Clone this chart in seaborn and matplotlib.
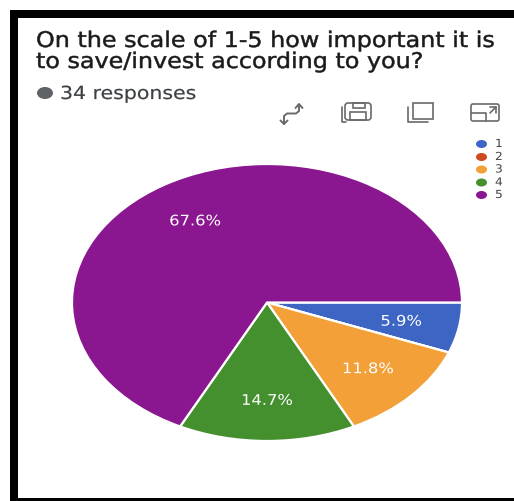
import matplotlib
matplotlib.use("Agg")
import matplotlib.pyplot as plt
import numpy as np
import seaborn as sns
from matplotlib.patches import Rectangle, FancyBboxPatch, Ellipse
from matplotlib.patheffects import AbstractPathEffect
from matplotlib.transforms import Affine2D

categories = ["1", "2", "3", "4", "5"]
values = [2, 0, 4, 5, 23]
pct_labels = ["5.9%", "", "11.8%", "14.7%", "67.6%"]
colors = ["#3D65C4", "#D0491E", "#F2A037", "#44902F", "#8B1790"]
title_lines = ["On the scale of 1-5 how important it is", "to save/invest according to you?"]
subtitle = "34 responses"


class StretchX(AbstractPathEffect):
    """Widen real text about a pixel anchor: the reference image is stretched sideways."""
    def __init__(self, x0, sx, embolden=0.0):
        super().__init__()
        self.x0, self.sx, self.embolden = x0, sx, embolden

    def draw_path(self, renderer, gc, tpath, affine, rgbFace=None):
        t = affine + Affine2D().translate(-self.x0, 0).scale(self.sx, 1).translate(self.x0, 0)
        gc0 = renderer.new_gc()
        gc0.copy_properties(gc)
        if self.embolden:
            gc0.set_linewidth(self.embolden)
            gc0.set_foreground(rgbFace)
        renderer.draw_path(gc0, tpath, t, rgbFace)
        gc0.restore()


sns.set_theme(style="white")
plt.rcParams['font.family'] = ['DejaVu Sans']
W, H = 514, 502
fig = plt.figure(figsize=(W/100, H/100), dpi=100, facecolor="white")

# page overlay in pixel coordinates
bg = fig.add_axes([0, 0, 1, 1], zorder=0)
bg.set_xlim(0, W); bg.set_ylim(H, 0); bg.axis("off")
bg.add_patch(Rectangle((10, 11), W-10, 7.5, color="black", lw=0))
bg.add_patch(Rectangle((10, 11), 8, H-11, color="black", lw=0))
bg.add_patch(Rectangle((10, 499), W-10, 3, color="black", lw=0))

title_fx = [StretchX(36, 1.107, 0.35)]
bg.text(36, 48, title_lines[0], fontsize=15.5, color="#1a1a1a", va="baseline", path_effects=title_fx)
bg.text(36, 69, title_lines[1], fontsize=15.5, color="#1a1a1a", va="baseline", path_effects=title_fx)
bg.add_patch(Ellipse((45, 94), 16, 12, color="#5f6368", lw=0))
bg.text(60, 100, subtitle, fontsize=13, color="#3c4043", va="baseline", path_effects=[StretchX(60, 1.135, 0.15)])

# toolbar icons
ic = "#6a6a6a"
kw = dict(fc="none", ec=ic, lw=1.2)
bg.plot([299, 299, 296, 287, 284, 284], [106, 112, 114.5, 114.5, 117, 125], color=ic, lw=1.4)
bg.plot([295.5, 299, 302.5], [109, 105, 109], color=ic, lw=1.4)
bg.plot([280.5, 284, 287.5], [121.5, 125, 121.5], color=ic, lw=1.4)
bg.add_patch(FancyBboxPatch((345, 104), 26, 17, boxstyle="round,pad=0,rounding_size=3", **kw))
bg.add_patch(Rectangle((353, 104), 12, 5, **kw))
bg.add_patch(Rectangle((350, 113), 16, 8, **kw))
bg.plot([342, 342, 346], [108, 123, 123], color=ic, lw=1.2)
bg.add_patch(Rectangle((413, 104), 20, 16, **kw))
bg.plot([408, 408, 428], [108, 123, 123], color=ic, lw=1.2)
bg.add_patch(FancyBboxPatch((471, 105), 28, 17, boxstyle="round,pad=0,rounding_size=2", **kw))
bg.plot([471, 486, 486], [114, 114, 122], color=ic, lw=1.2)
bg.plot([490, 496, 496], [108, 108, 114], color=ic, lw=1.2)
bg.plot([490, 496], [114, 108], color=ic, lw=1.2)

# pie: circle stretched to the reference's ellipse (x 72..462, y 165..442)
ax = fig.add_axes([72/W, 1-442/H, 390/W, 277/H], zorder=1)
wedges, _ = ax.pie(values, colors=colors, startangle=0, counterclock=False, radius=1,
                   wedgeprops=dict(edgecolor="white", linewidth=1.6))
ax.set_aspect("auto")
ax.set_xlim(-1, 1); ax.set_ylim(-1, 1)

# percentage labels, placed from the wedge angles
total = sum(values)
cum = 0
for v, lab in zip(values, pct_labels):
    mid = (cum + v/2) / total * 2*np.pi
    cum += v
    if lab:
        r = 0.7
        x, y = r*np.cos(mid), -r*np.sin(mid) - 0.006
        px = ax.transData.transform((x, y))[0]
        ax.text(x, y, lab, color="white", ha="center", va="center",
                fontsize=10.5, path_effects=[StretchX(px, 1.12)])

# legend
ly = [145, 158, 170.5, 183.5, 196]
for c, t, y in zip(colors, categories, ly):
    bg.add_patch(Ellipse((481.5, y), 11, 8, color=c, lw=0))
    bg.text(495, y, t, fontsize=8, color="#444444", va="center", path_effects=[StretchX(495, 1.1)])

fig.savefig("out.png", dpi=100)
